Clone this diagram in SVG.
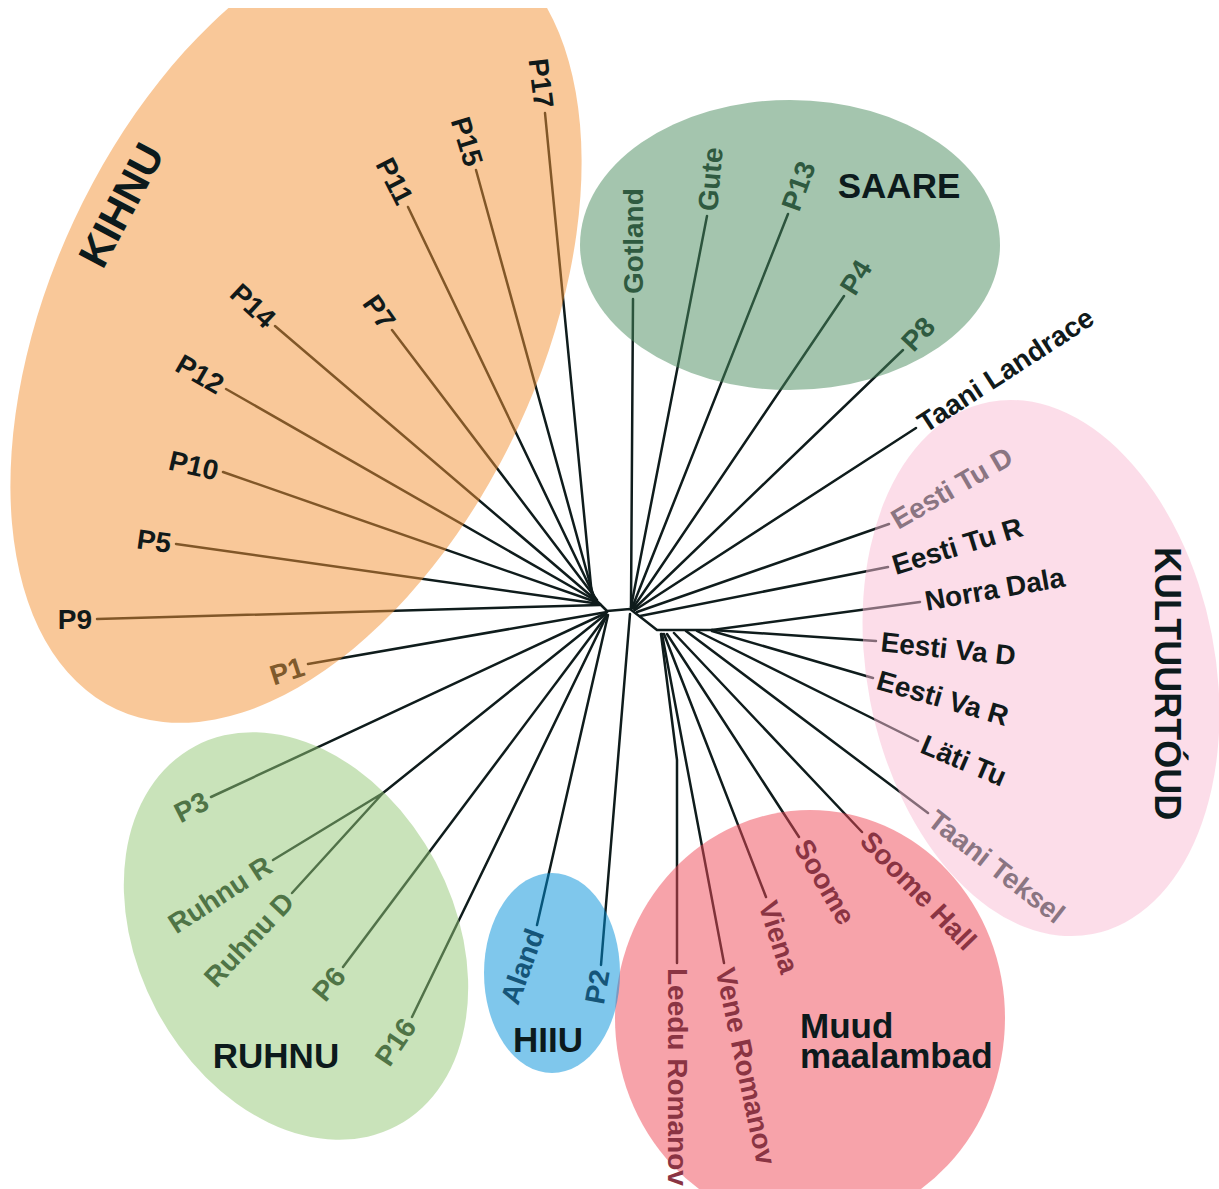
<svg xmlns="http://www.w3.org/2000/svg" width="1219" height="1189" viewBox="0 0 1219 1189">
<defs>
<style>
.ln{stroke:#0f1c1c;stroke-width:2.5;fill:none;stroke-linecap:round;stroke-linejoin:round}
.lb{font-family:"Liberation Sans",Arial,Helvetica,sans-serif;font-weight:bold;font-size:28px;fill:#111a1a}
.tt{font-family:"Liberation Sans",Arial,Helvetica,sans-serif;font-weight:bold;font-size:35px;fill:#0c1a1c}
.e{text-anchor:end}
.el{fill-opacity:.5;stroke:none}
.kb{fill:#7f5a2c}
.sg{fill:#2f5a40}
.kg{fill:#8a7582}
.rg{fill:#4f7446}
.hb{fill:#155579}
.mr{fill:#8a3443}
</style>
<clipPath id="topclip"><rect x="0" y="8" width="1219" height="1181"/></clipPath>
</defs>
<rect width="1219" height="1189" fill="#ffffff"/>

<g id="connectors" class="ln">
  <polyline points="600,604 607,611 630,609 643,619 657,630 712,630"/>
  <line x1="545" y1="113" x2="592" y2="596"/>
  <line x1="476" y1="170" x2="594" y2="598"/>
  <line x1="408" y1="207" x2="596" y2="600"/>
  <line x1="392" y1="330" x2="597" y2="600"/>
  <line x1="275" y1="326" x2="597" y2="601"/>
  <line x1="226" y1="389" x2="598" y2="602"/>
  <line x1="223" y1="472" x2="599" y2="603"/>
  <line x1="176" y1="544" x2="600" y2="604"/>
  <line x1="97" y1="619" x2="600" y2="605"/>
  <line x1="308" y1="664" x2="607" y2="612"/>
  <line x1="633" y1="299" x2="631" y2="607"/>
  <line x1="707" y1="216" x2="631" y2="607"/>
  <line x1="788" y1="214" x2="632" y2="608"/>
  <line x1="844" y1="296" x2="633" y2="608"/>
  <line x1="903" y1="350" x2="634" y2="609"/>
  <line x1="916" y1="428" x2="635" y2="610"/>
  <line x1="889" y1="524" x2="637" y2="612"/>
  <line x1="888" y1="567" x2="640" y2="616"/>
  <line x1="920" y1="602" x2="712" y2="630"/>
  <line x1="876" y1="641" x2="712" y2="630"/>
  <line x1="873" y1="678" x2="712" y2="631"/>
  <line x1="918" y1="741" x2="697" y2="631"/>
  <line x1="928" y1="813" x2="686" y2="631"/>
  <line x1="862" y1="832" x2="674" y2="633"/>
  <line x1="799" y1="837" x2="667" y2="634"/>
  <line x1="766" y1="897" x2="664" y2="634"/>
  <line x1="724" y1="963" x2="662" y2="634"/>
  <polyline points="677,963 677,760 661,634"/>
  <line x1="211" y1="797" x2="606" y2="613"/>
  <polyline points="273,860 383,793 292,893"/>
  <line x1="383" y1="793" x2="606" y2="614"/>
  <line x1="343" y1="967" x2="607" y2="615"/>
  <line x1="412" y1="1017" x2="607" y2="615"/>
  <line x1="537" y1="925" x2="608" y2="615"/>
  <line x1="601" y1="965" x2="630" y2="614"/>
</g>

<g id="cluster-kihnu">
  <g clip-path="url(#topclip)">
    <ellipse class="el" fill="#f39133" cx="296" cy="324" rx="425" ry="245" transform="rotate(-65 296 324)"/>
  </g>
  <text class="tt" text-anchor="middle" dy=".35em" transform="translate(121,205) rotate(-62)" style="font-size:42px">KIHNU</text>
  <g id="leaf-P17"><text class="lb e" x="-5" dy=".35em" transform="translate(545,113) rotate(83)">P17</text></g>
  <g id="leaf-P15"><text class="lb e" x="-5" dy=".35em" transform="translate(476,170) rotate(73)">P15</text></g>
  <g id="leaf-P11"><text class="lb e" x="-5" dy=".35em" transform="translate(408,207) rotate(63)">P11</text></g>
  <g id="leaf-P7"><text class="lb e" x="-5" dy=".35em" transform="translate(392,330) rotate(55)">P7</text></g>
  <g id="leaf-P14"><text class="lb e" x="-5" dy=".35em" transform="translate(275,326) rotate(43)">P14</text></g>
  <g id="leaf-P12"><text class="lb e" x="-5" dy=".35em" transform="translate(226,389) rotate(30)">P12</text></g>
  <g id="leaf-P10"><text class="lb e" x="-5" dy=".35em" transform="translate(223,472) rotate(13)">P10</text></g>
  <g id="leaf-P5"><text class="lb e" x="-5" dy=".35em" transform="translate(176,544) rotate(8)">P5</text></g>
  <g id="leaf-P9"><text class="lb e" x="-5" dy=".35em" transform="translate(97,619)">P9</text></g>
  <g id="leaf-P1"><text class="lb e kb" x="-5" dy=".35em" transform="translate(308,664) rotate(-18)">P1</text></g>
</g>

<g id="cluster-saare">
  <ellipse class="el" fill="#498b5d" cx="790" cy="245" rx="210" ry="145"/>
  <text class="tt" x="899" y="198" text-anchor="middle">SAARE</text>
  <g id="leaf-Gotland"><text class="lb sg" x="5" dy=".35em" transform="translate(633,299) rotate(-90)">Gotland</text></g>
  <g id="leaf-Gute"><text class="lb sg" x="5" dy=".35em" transform="translate(707,216) rotate(-85)">Gute</text></g>
  <g id="leaf-P13"><text class="lb sg" x="5" dy=".35em" transform="translate(788,214) rotate(-70)">P13</text></g>
  <g id="leaf-P4"><text class="lb sg" x="5" dy=".35em" transform="translate(844,296) rotate(-58)">P4</text></g>
  <g id="leaf-P8"><text class="lb sg" x="5" dy=".35em" transform="translate(903,350) rotate(-47)">P8</text></g>
</g>

<g id="leaf-TaaniLandrace"><text class="lb" x="5" dy=".35em" transform="translate(916,428) rotate(-33)">Taani Landrace</text></g>

<g id="cluster-kultuur">
  <ellipse class="el" fill="#f9bbd3" cx="1041" cy="668" rx="174" ry="271" transform="rotate(-11 1041 668)"/>
  <text class="tt" style="font-size:36px" transform="translate(1155,547) rotate(90)">KULTUURTÓUD</text>
  <g id="leaf-EestiTuD"><text class="lb kg" x="5" dy=".35em" transform="translate(889,524) rotate(-30)">Eesti Tu D</text></g>
  <g id="leaf-EestiTuR"><text class="lb" x="5" dy=".35em" transform="translate(888,567) rotate(-17)">Eesti Tu R</text></g>
  <g id="leaf-NorraDala"><text class="lb" x="5" dy=".35em" transform="translate(920,602) rotate(-10)">Norra Dala</text></g>
  <g id="leaf-EestiVaD"><text class="lb" x="5" dy=".35em" transform="translate(876,641) rotate(6)">Eesti Va D</text></g>
  <g id="leaf-EestiVaR"><text class="lb" x="5" dy=".35em" transform="translate(873,678) rotate(16)">Eesti Va R</text></g>
  <g id="leaf-LatiTu"><text class="lb" x="5" dy=".35em" transform="translate(918,741) rotate(23)">Läti Tu</text></g>
  <g id="leaf-TaaniTeksel"><text class="lb kg" x="5" dy=".35em" transform="translate(928,813) rotate(38)">Taani Teksel</text></g>
</g>

<g id="cluster-muud">
  <ellipse class="el" fill="#ef4755" cx="810" cy="1018" rx="195" ry="208"/>
  <text class="tt" x="800" y="1038">Muud</text>
  <text class="tt" x="800" y="1068">maalambad</text>
  <g id="leaf-SoomeHall"><text class="lb mr" x="5" dy=".35em" transform="translate(862,832) rotate(46)">Soome Hall</text></g>
  <g id="leaf-Soome"><text class="lb mr" x="5" dy=".35em" transform="translate(799,837) rotate(60)">Soome</text></g>
  <g id="leaf-Viena"><text class="lb mr" x="5" dy=".35em" transform="translate(766,897) rotate(72)">Viena</text></g>
  <g id="leaf-VeneRomanov"><text class="lb mr" x="5" dy=".35em" transform="translate(724,963) rotate(78)">Vene Romanov</text></g>
  <g id="leaf-LeeduRomanov"><text class="lb mr" x="5" dy=".35em" transform="translate(678,963) rotate(90)">Leedu Romanov</text></g>
</g>

<g id="cluster-ruhnu">
  <ellipse class="el" fill="#93c775" cx="296" cy="936" rx="215" ry="158" transform="rotate(62 296 936)"/>
  <text class="tt" x="276" y="1068" text-anchor="middle">RUHNU</text>
  <g id="leaf-P3"><text class="lb e rg" x="-5" dy=".35em" transform="translate(211,797) rotate(-27)">P3</text></g>
  <g id="leaf-RuhnuR"><text class="lb e rg" x="-5" dy=".35em" transform="translate(273,860) rotate(-33)">Ruhnu R</text></g>
  <g id="leaf-RuhnuD"><text class="lb e rg" x="-5" dy=".35em" transform="translate(292,893) rotate(-47)">Ruhnu D</text></g>
  <g id="leaf-P6"><text class="lb e rg" x="-5" dy=".35em" transform="translate(343,967) rotate(-50)">P6</text></g>
  <g id="leaf-P16"><text class="lb e rg" x="-5" dy=".35em" transform="translate(412,1017) rotate(-56)">P16</text></g>
</g>

<g id="cluster-hiiu">
  <ellipse class="el" fill="#008fd9" cx="552" cy="973" rx="68" ry="100"/>
  <text class="tt" x="548" y="1052" text-anchor="middle">HIIU</text>
  <g id="leaf-Aland"><text class="lb e hb" x="-5" dy=".35em" transform="translate(537,925) rotate(-70)">Aland</text></g>
  <g id="leaf-P2"><text class="lb e hb" x="-5" dy=".35em" transform="translate(601,965) rotate(-80)">P2</text></g>
</g>
</svg>
